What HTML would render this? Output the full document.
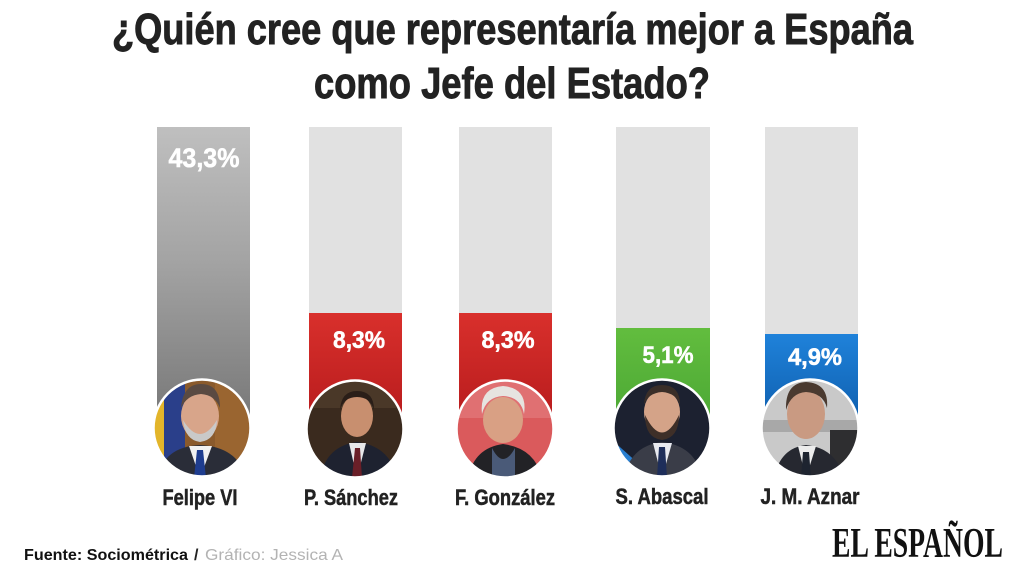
<!DOCTYPE html>
<html>
<head>
<meta charset="utf-8">
<style>
html,body{margin:0;padding:0;background:#fff;}
svg{display:block;}
text{font-family:"Liberation Sans",sans-serif;}
</style>
</head>
<body>
<svg width="1024" height="576" viewBox="0 0 1024 576" xmlns="http://www.w3.org/2000/svg">
<defs>
  <linearGradient id="gGray" x1="0" y1="0" x2="0" y2="1">
    <stop offset="0" stop-color="#bfbfbf"/>
    <stop offset="0.45" stop-color="#a3a3a3"/>
    <stop offset="1" stop-color="#767676"/>
  </linearGradient>
  <linearGradient id="gRed" x1="0" y1="0" x2="0" y2="1">
    <stop offset="0" stop-color="#d9302c"/>
    <stop offset="1" stop-color="#b51a1c"/>
  </linearGradient>
  <linearGradient id="gGreen" x1="0" y1="0" x2="0" y2="1">
    <stop offset="0" stop-color="#62bd3e"/>
    <stop offset="1" stop-color="#4aa634"/>
  </linearGradient>
  <linearGradient id="gBlue" x1="0" y1="0" x2="0" y2="1">
    <stop offset="0" stop-color="#1f82da"/>
    <stop offset="1" stop-color="#0e5cab"/>
  </linearGradient>
  <clipPath id="c1"><circle cx="202" cy="428" r="48"/></clipPath>
  <clipPath id="c2"><circle cx="355" cy="429" r="48"/></clipPath>
  <clipPath id="c3"><circle cx="505" cy="429" r="48"/></clipPath>
  <clipPath id="c4"><circle cx="662" cy="428" r="48"/></clipPath>
  <clipPath id="c5"><circle cx="810" cy="428" r="48"/></clipPath>
</defs>

<!-- Title -->
<g font-size="44" font-weight="bold" fill="#222" stroke="#222" stroke-width="0.9">
<text x="112" y="44" textLength="801" lengthAdjust="spacingAndGlyphs">¿Quién cree que representaría mejor a España</text>
<text x="314" y="98" textLength="396" lengthAdjust="spacingAndGlyphs">como Jefe del Estado?</text>
</g>

<!-- Background bars -->
<rect x="157" y="127" width="93" height="301" fill="#e1e1e1"/>
<rect x="309" y="127" width="93" height="301" fill="#e1e1e1"/>
<rect x="459" y="127" width="93" height="301" fill="#e1e1e1"/>
<rect x="616" y="127" width="94" height="301" fill="#e1e1e1"/>
<rect x="765" y="127" width="93" height="301" fill="#e1e1e1"/>

<!-- Value bars -->
<rect x="157" y="127" width="93" height="301" fill="url(#gGray)"/>
<rect x="309" y="313" width="93" height="115" fill="url(#gRed)"/>
<rect x="459" y="313" width="93" height="115" fill="url(#gRed)"/>
<rect x="616" y="328" width="94" height="100" fill="url(#gGreen)"/>
<rect x="765" y="334" width="93" height="94" fill="url(#gBlue)"/>

<!-- Values -->
<g font-weight="bold" fill="#fff" stroke="#fff" stroke-width="0.5" text-anchor="middle">
  <text x="204" y="167" font-size="27" textLength="71" lengthAdjust="spacingAndGlyphs">43,3%</text>
  <text x="359" y="348" font-size="24" textLength="52" lengthAdjust="spacingAndGlyphs">8,3%</text>
  <text x="508" y="348" font-size="24" textLength="53" lengthAdjust="spacingAndGlyphs">8,3%</text>
  <text x="668" y="363" font-size="24" textLength="51" lengthAdjust="spacingAndGlyphs">5,1%</text>
  <text x="815" y="365" font-size="24" textLength="54" lengthAdjust="spacingAndGlyphs">4,9%</text>
</g>

<!-- Photo 1: Felipe VI -->
<g clip-path="url(#c1)">
  <rect x="150" y="378" width="110" height="100" fill="#8a5a2c"/>
  <rect x="150" y="378" width="35" height="100" fill="#2a3f8a"/>
  <rect x="150" y="395" width="14" height="70" fill="#e3b52a"/>
  <rect x="215" y="378" width="45" height="100" fill="#9a6530"/>
  <ellipse cx="200" cy="416" rx="19" ry="24" fill="#d8a58a"/>
  <path d="M181 408 Q183 384 201 384 Q220 384 220 408 Q215 395 201 394 Q187 395 181 408Z" fill="#5a4a42"/>
  <path d="M183 420 Q200 448 217 420 Q216 440 200 442 Q185 440 183 420Z" fill="#c9c9c9"/>
  <path d="M158 478 Q163 447 200 445 Q238 447 246 478Z" fill="#2a2d38"/>
  <path d="M189 446 L200 478 L212 446Z" fill="#f1f1f1"/>
  <path d="M197 450 L203 450 L206 478 L194 478Z" fill="#1f3d8f"/>
</g>
<circle cx="202" cy="428" r="48.5" fill="none" stroke="#fff" stroke-width="2.5"/>

<!-- Photo 2: Sánchez -->
<g clip-path="url(#c2)">
  <rect x="300" y="378" width="110" height="100" fill="#3a2a1e"/>
  <rect x="300" y="378" width="110" height="30" fill="#4a3828"/>
  <ellipse cx="357" cy="416" rx="16" ry="21" fill="#c88f6f"/>
  <path d="M340 410 Q341 391 357 391 Q374 391 374 410 Q370 397 357 397 Q344 397 340 410Z" fill="#2a1e18"/>
  <path d="M320 478 Q326 446 357 442 Q390 446 397 478Z" fill="#1e2230"/>
  <path d="M349 443 L357 478 L366 443Z" fill="#e8e8ea"/>
  <path d="M355 448 L360 448 L362 478 L352 478Z" fill="#6a1f28"/>
</g>
<circle cx="355" cy="429" r="48.5" fill="none" stroke="#fff" stroke-width="2.5"/>

<!-- Photo 3: González -->
<g clip-path="url(#c3)">
  <rect x="455" y="378" width="110" height="100" fill="#da5a5c"/>
  <rect x="455" y="378" width="110" height="40" fill="#e07072"/>
  <ellipse cx="503" cy="420" rx="20" ry="23" fill="#d9a084"/>
  <path d="M482 414 Q479 388 503 386 Q528 388 524 414 Q521 397 503 396 Q486 397 482 414Z" fill="#e6e4e0"/>
  <path d="M468 478 Q474 448 503 444 Q535 448 542 478Z" fill="#222226"/>
  <path d="M492 448 Q503 470 515 448 L515 478 L492 478Z" fill="#4a5a78"/>
</g>
<circle cx="505" cy="429" r="48.5" fill="none" stroke="#fff" stroke-width="2.5"/>

<!-- Photo 4: Abascal -->
<g clip-path="url(#c4)">
  <rect x="610" y="378" width="110" height="100" fill="#1c2130"/>
  <path d="M612 440 L640 465 L620 478 L612 478Z" fill="#2a7fd0"/>
  <ellipse cx="662" cy="412" rx="18" ry="22" fill="#d4a388"/>
  <path d="M644 405 Q645 385 662 385 Q680 385 680 405 Q676 393 662 392 Q648 393 644 405Z" fill="#3a2e28"/>
  <path d="M645 415 Q662 450 679 415 Q679 438 662 440 Q645 438 645 415Z" fill="#3e2f28"/>
  <path d="M624 478 Q630 446 662 442 Q696 446 702 478Z" fill="#3a3d48"/>
  <path d="M653 443 L662 478 L672 443Z" fill="#e8eaf0"/>
  <path d="M659 447 L665 447 L667 478 L657 478Z" fill="#1e2e5a"/>
</g>
<circle cx="662" cy="428" r="48.5" fill="none" stroke="#fff" stroke-width="2.5"/>

<!-- Photo 5: Aznar -->
<g clip-path="url(#c5)">
  <rect x="760" y="378" width="110" height="100" fill="#c9c9c9"/>
  <rect x="760" y="420" width="110" height="12" fill="#a8a8a8"/>
  <rect x="830" y="430" width="40" height="48" fill="#2e2e30"/>
  <ellipse cx="806" cy="414" rx="19" ry="25" fill="#c99a82"/>
  <path d="M786 410 Q785 383 806 382 Q829 383 827 408 Q823 393 806 392 Q791 393 786 410Z" fill="#4a3a30"/>
  <path d="M774 478 Q780 448 806 445 Q836 448 844 478Z" fill="#262830"/>
  <path d="M798 446 L806 478 L816 446Z" fill="#ececec"/>
  <path d="M803 452 L809 452 L811 478 L801 478Z" fill="#1e2430"/>
</g>
<circle cx="810" cy="428" r="48.5" fill="none" stroke="#fff" stroke-width="2.5"/>

<!-- Names -->
<g font-weight="bold" fill="#222" stroke="#222" stroke-width="0.5" text-anchor="middle" font-size="22">
  <text x="200" y="505" textLength="75" lengthAdjust="spacingAndGlyphs">Felipe VI</text>
  <text x="351" y="505" textLength="94" lengthAdjust="spacingAndGlyphs">P. Sánchez</text>
  <text x="505" y="505" textLength="100" lengthAdjust="spacingAndGlyphs">F. González</text>
  <text x="662" y="504" textLength="93" lengthAdjust="spacingAndGlyphs">S. Abascal</text>
  <text x="810" y="504" textLength="99" lengthAdjust="spacingAndGlyphs">J. M. Aznar</text>
</g>

<!-- Footer -->
<text x="24" y="560" font-size="16" font-weight="bold" fill="#111" textLength="164" lengthAdjust="spacingAndGlyphs">Fuente: Sociométrica</text>
<text x="194" y="560" font-size="16" font-weight="bold" fill="#222">/</text>
<text x="205" y="560" font-size="16" fill="#b3b3b3" textLength="138" lengthAdjust="spacingAndGlyphs">Gráfico: Jessica A</text>

<text x="832" y="557" font-size="42" font-weight="bold" fill="#111" style="font-family:'Liberation Serif',serif" textLength="171" lengthAdjust="spacingAndGlyphs">EL ESPAÑOL</text>
</svg>
</body>
</html>
